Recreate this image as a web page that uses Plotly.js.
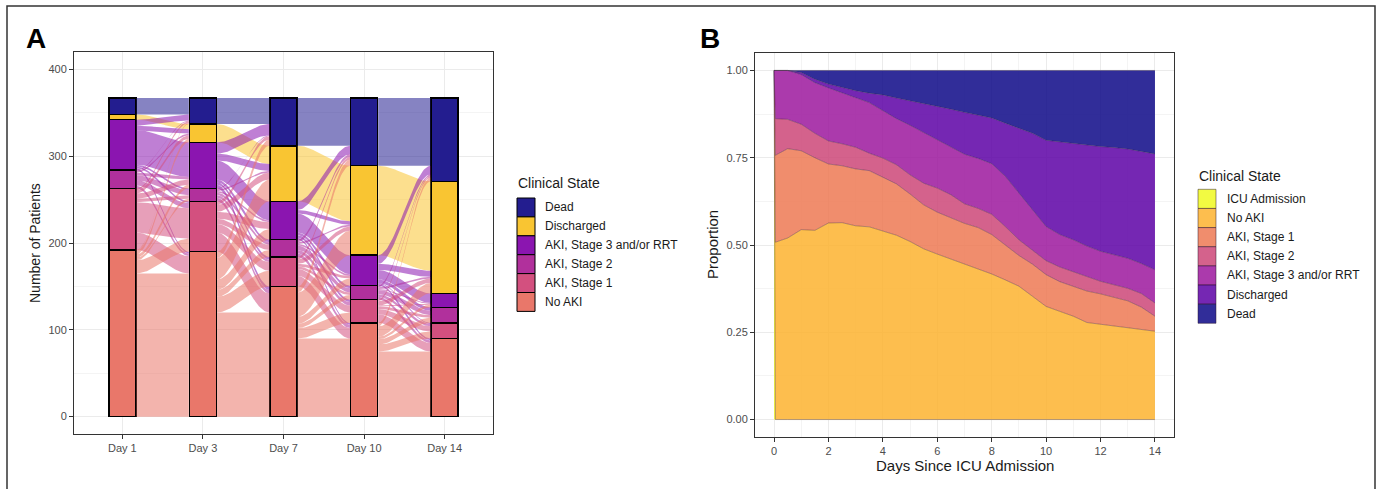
<!DOCTYPE html>
<html><head><meta charset="utf-8">
<script src="https://cdn.plot.ly/plotly-3.0.1.min.js"></script>
<style>body{margin:0;background:#fff}#chart{width:1381px;height:489px}</style>
</head><body><div id="chart"></div>
<script>
// ---------------- Panel A data ----------------
const days = ['Day 1', 'Day 3', 'Day 7', 'Day 10', 'Day 14'];
const statesA = ['Dead', 'Discharged', 'AKI, Stage 3 and/or RRT', 'AKI, Stage 2', 'AKI, Stage 1', 'No AKI']; // top -> bottom
const colorsA = ['#231d8f', '#f9c532', '#8b15b0', '#b1309c', '#d3507f', '#e9776a'];
const deadN       = [19, 30, 55, 78, 96];
const dischargedN = [6, 21, 64, 103, 129];
const aki3N       = [58, 53, 44, 35, 16];
const aki2N       = [21, 15, 20, 16, 18];
const aki1N       = [71, 58, 34, 27, 18];
const noAkiN      = [192, 190, 150, 108, 90];
// transitions: rows = state at earlier day, cols = state at later day (order of statesA)
const flowDay1to3 = [
  [19, 0, 0, 0, 0, 0],
  [0, 6, 0, 0, 0, 0],
  [7, 5, 40, 2, 2, 2],
  [1, 2, 3, 6, 6, 3],
  [2, 4, 6, 4, 35, 20],
  [1, 4, 4, 3, 15, 165]
];
const flowDay3to7 = [
  [30, 0, 0, 0, 0, 0],
  [0, 21, 0, 0, 0, 0],
  [13, 8, 22, 3, 3, 4],
  [1, 2, 2, 3, 3, 4],
  [4, 8, 8, 6, 10, 22],
  [7, 25, 12, 8, 18, 120]
];
const flowDay7to10 = [
  [55, 0, 0, 0, 0, 0],
  [0, 64, 0, 0, 0, 0],
  [10, 4, 22, 3, 3, 2],
  [3, 2, 2, 5, 4, 4],
  [3, 5, 3, 3, 8, 12],
  [7, 28, 8, 5, 12, 90]
];
const flowDay10to14 = [
  [78, 0, 0, 0, 0, 0],
  [0, 103, 0, 0, 0, 0],
  [10, 7, 11, 4, 1, 2],
  [2, 2, 1, 5, 3, 3],
  [2, 5, 1, 3, 6, 10],
  [4, 12, 3, 6, 8, 75]
];

// ---------------- Panel B data ----------------
const statesB = ['ICU Admission', 'No AKI', 'AKI, Stage 1', 'AKI, Stage 2', 'AKI, Stage 3 and/or RRT', 'Discharged', 'Dead'];
const colorsB = ['#F0F921', '#FDB32F', '#ED7953', '#CC4678', '#9C179E', '#5D01A6', '#0D0887'];
const daysB = [0, 0.05, 0.5, 1, 1.5, 2, 2.5, 3, 3.5, 4, 4.5, 5, 5.5, 6, 6.5, 7, 7.5, 8, 8.5, 9, 9.5, 10, 10.5, 11, 11.5, 12, 12.5, 13, 13.5, 14];
// cumulative upper edge of each state (stacked from the bottom)
const icuUpper   = [1, 0, 0, 0, 0, 0, 0, 0, 0, 0, 0, 0, 0, 0, 0, 0, 0, 0, 0, 0, 0, 0, 0, 0, 0, 0, 0, 0, 0, 0];
const noAkiUpper = [1, 0.508, 0.52, 0.544, 0.542, 0.563, 0.564, 0.555, 0.552, 0.539, 0.528, 0.51, 0.489, 0.474, 0.46, 0.447, 0.432, 0.417, 0.40, 0.382, 0.353, 0.324, 0.31, 0.296, 0.278, 0.272, 0.268, 0.263, 0.258, 0.253];
const aki1Upper  = [1, 0.757, 0.776, 0.77, 0.75, 0.732, 0.727, 0.718, 0.713, 0.694, 0.675, 0.646, 0.615, 0.594, 0.579, 0.562, 0.55, 0.53, 0.50, 0.47, 0.445, 0.415, 0.395, 0.382, 0.368, 0.36, 0.35, 0.34, 0.322, 0.296];
const aki2Upper  = [1, 0.862, 0.86, 0.846, 0.82, 0.798, 0.79, 0.78, 0.763, 0.749, 0.73, 0.701, 0.677, 0.663, 0.644, 0.618, 0.605, 0.588, 0.553, 0.515, 0.485, 0.455, 0.437, 0.423, 0.409, 0.396, 0.386, 0.376, 0.361, 0.334];
const aki3Upper  = [1, 1.0, 1.0, 0.988, 0.965, 0.95, 0.937, 0.922, 0.908, 0.886, 0.862, 0.843, 0.822, 0.803, 0.78, 0.76, 0.748, 0.733, 0.697, 0.649, 0.601, 0.553, 0.53, 0.515, 0.497, 0.482, 0.472, 0.462, 0.447, 0.429];
const dischUpper = [1, 1.0, 1.0, 0.994, 0.975, 0.961, 0.951, 0.942, 0.935, 0.93, 0.921, 0.913, 0.905, 0.899, 0.889, 0.88, 0.873, 0.864, 0.849, 0.835, 0.82, 0.8, 0.795, 0.792, 0.787, 0.782, 0.779, 0.775, 0.768, 0.761];
const deadUpper  = [1, 1, 1, 1, 1, 1, 1, 1, 1, 1, 1, 1, 1, 1, 1, 1, 1, 1, 1, 1, 1, 1, 1, 1, 1, 1, 1, 1, 1, 1];
const upperB = [icuUpper, noAkiUpper, aki1Upper, aki2Upper, aki3Upper, dischUpper, deadUpper];

// ---------------- helpers ----------------
const W = 1381, H = 489;
const px = x => x / W, py = y => 1 - y / H;
function rgba(hex, a) {
  const n = parseInt(hex.slice(1), 16);
  return `rgba(${(n >> 16) & 255},${(n >> 8) & 255},${n & 255},${a})`;
}
const FONT = 'Liberation Sans, Arial, sans-serif';

const countsA = [deadN, dischargedN, aki3N, aki2N, aki1N, noAkiN];
const transitions = [flowDay1to3, flowDay3to7, flowDay7to10, flowDay10to14];
const barW = 1 / 3;

function stratumTop(axis, s) {
  let total = 0; countsA.forEach(c => total += c[axis]);
  let above = 0; for (let t = 0; t < s; t++) above += countsA[t][axis];
  return total - above;
}
function ribbon(x0, x1, t0, b0, t1, b1, color) {
  const n = 40, xs = [], ys = [];
  for (let k = 0; k <= n; k++) { const s = k / n, e = s * s * (3 - 2 * s); xs.push(x0 + (x1 - x0) * s); ys.push(t0 + (t1 - t0) * e); }
  for (let k = n; k >= 0; k--) { const s = k / n, e = s * s * (3 - 2 * s); xs.push(x0 + (x1 - x0) * s); ys.push(b0 + (b1 - b0) * e); }
  xs.push(xs[0]); ys.push(ys[0]);
  return { type: 'scatter', mode: 'lines', x: xs, y: ys, fill: 'toself', fillcolor: color,
           line: { width: 0 }, hoverinfo: 'skip', showlegend: false, xaxis: 'x', yaxis: 'y' };
}

const traces = [];
// flows (alluvia)
transitions.forEach((T, k) => {
  const xL = (k + 1) + barW / 2 + 0.008, xR = (k + 2) - barW / 2 - 0.008;
  for (let i = 0; i < 6; i++) {
    for (let j = 0; j < 6; j++) {
      const v = T[i][j]; if (!v) continue;
      let outAbove = 0; for (let jj = 0; jj < j; jj++) outAbove += T[i][jj];
      let inAbove = 0; for (let ii = 0; ii < i; ii++) inAbove += T[ii][j];
      const tL = stratumTop(k, i) - outAbove, tR = stratumTop(k + 1, j) - inAbove;
      traces.push(ribbon(xL, xR, tL, tL - v, tR, tR - v, rgba(colorsA[i], 0.55)));
    }
  }
});
// strata bars (bottom first)
for (let s = 5; s >= 0; s--) {
  traces.push({ type: 'bar', x: [1, 2, 3, 4, 5], y: countsA[s], width: barW, name: statesA[s],
    marker: { color: colorsA[s], line: { color: '#000', width: 1.5 } },
    showlegend: false, hoverinfo: 'skip', xaxis: 'x', yaxis: 'y' });
}
// Panel B stacked proportions
upperB.forEach((u, s) => {
  traces.push({ type: 'scatter', mode: 'lines', x: daysB, y: u, name: statesB[s],
    fill: s === 0 ? 'tozeroy' : 'tonexty', fillcolor: rgba(colorsB[s], 0.85),
    line: { color: 'rgba(40,20,40,0.55)', width: 0.6 }, showlegend: false, hoverinfo: 'skip',
    xaxis: 'x2', yaxis: 'y2' });
});

// ---------------- layout ----------------
const tickFont = { family: FONT, size: 11, color: '#4d4d4d' };
const common = { showline: true, mirror: true, linecolor: '#333', linewidth: 1, ticks: 'outside', ticklen: 4,
  tickcolor: '#333', tickwidth: 1, tickfont: tickFont, zeroline: false, gridcolor: '#ebebeb', gridwidth: 1, fixedrange: true };

const shapes = [];
const annotations = [];
function ann(text, x, y, o) {
  annotations.push(Object.assign({ text, xref: 'paper', yref: 'paper', x: px(x), y: py(y), showarrow: false,
    xanchor: 'left', yanchor: 'middle', font: { family: FONT, size: 12, color: '#1a1a1a' } }, o || {}));
}
// outer frame
shapes.push({ type: 'rect', xref: 'paper', yref: 'paper', x0: px(7), x1: px(1375), y0: py(520), y1: py(6),
  line: { color: '#333', width: 1.5 } });
// panel labels
ann('<b>A</b>', 24, 38, { font: { family: FONT, size: 28, color: '#000' } });
ann('<b>B</b>', 698, 38, { font: { family: FONT, size: 28, color: '#000' } });
// axis titles
ann('Number of Patients', 35, 243, { xanchor: 'center', textangle: -90, font: { family: FONT, size: 14, color: '#1a1a1a' } });
ann('Proportion', 712, 245, { xanchor: 'center', textangle: -90, font: { family: FONT, size: 15, color: '#1a1a1a' } });
ann('Days Since ICU Admission', 964.5, 465, { xanchor: 'center', font: { family: FONT, size: 15, color: '#1a1a1a' } });
// legend A
ann('Clinical State', 516, 183, { font: { family: FONT, size: 14, color: '#1a1a1a' } });
statesA.forEach((s, i) => {
  const y0 = 198 + i * 18.9;
  shapes.push({ type: 'rect', xref: 'paper', yref: 'paper', x0: px(517), x1: px(535), y0: py(y0 + 18.9), y1: py(y0),
    fillcolor: colorsA[i], line: { color: '#000', width: 1 } });
  ann(s, 543, y0 + 9.5);
});
// legend B
ann('Clinical State', 1197, 176, { font: { family: FONT, size: 14, color: '#1a1a1a' } });
statesB.forEach((s, i) => {
  const y0 = 189.3 + i * 19.14;
  shapes.push({ type: 'rect', xref: 'paper', yref: 'paper', x0: px(1198), x1: px(1216), y0: py(y0 + 19.14), y1: py(y0),
    fillcolor: rgba(colorsB[i], 0.85), line: { color: 'rgba(40,20,40,0.6)', width: 0.8 } });
  ann(s, 1225, y0 + 9.6);
});

const layout = {
  width: W, height: H, margin: { l: 0, r: 0, t: 0, b: 0 }, paper_bgcolor: '#fff', plot_bgcolor: '#fff',
  barmode: 'stack', bargap: 0, showlegend: false,
  xaxis: Object.assign({}, common, { domain: [px(74), px(493)], range: [0.4, 5.6], tickvals: [1, 2, 3, 4, 5], ticktext: days, showgrid: true, anchor: 'y' }),
  yaxis: Object.assign({}, common, { domain: [py(434), py(52)], range: [-20, 420], tickvals: [0, 100, 200, 300, 400], showgrid: true,
    minor: { dtick: 50, tick0: 0, showgrid: true, gridcolor: '#f4f4f4', gridwidth: 1, ticks: '' }, anchor: 'x' }),
  xaxis2: Object.assign({}, common, { domain: [px(755), px(1174)], range: [-0.7, 14.7], tickvals: [0, 2, 4, 6, 8, 10, 12, 14], showgrid: true,
    minor: { dtick: 1, tick0: 0, showgrid: true, gridcolor: '#f4f4f4', gridwidth: 1, ticks: '' }, anchor: 'y2' }),
  yaxis2: Object.assign({}, common, { domain: [py(437), py(53)], range: [-0.05, 1.05], tickvals: [0, 0.25, 0.5, 0.75, 1],
    ticktext: ['0.00', '0.25', '0.50', '0.75', '1.00'], showgrid: true,
    minor: { dtick: 0.125, tick0: 0, showgrid: true, gridcolor: '#f4f4f4', gridwidth: 1, ticks: '' }, anchor: 'x2' }),
  shapes, annotations
};
Plotly.newPlot('chart', traces, layout, { staticPlot: true, displayModeBar: false });
</script></body></html>
